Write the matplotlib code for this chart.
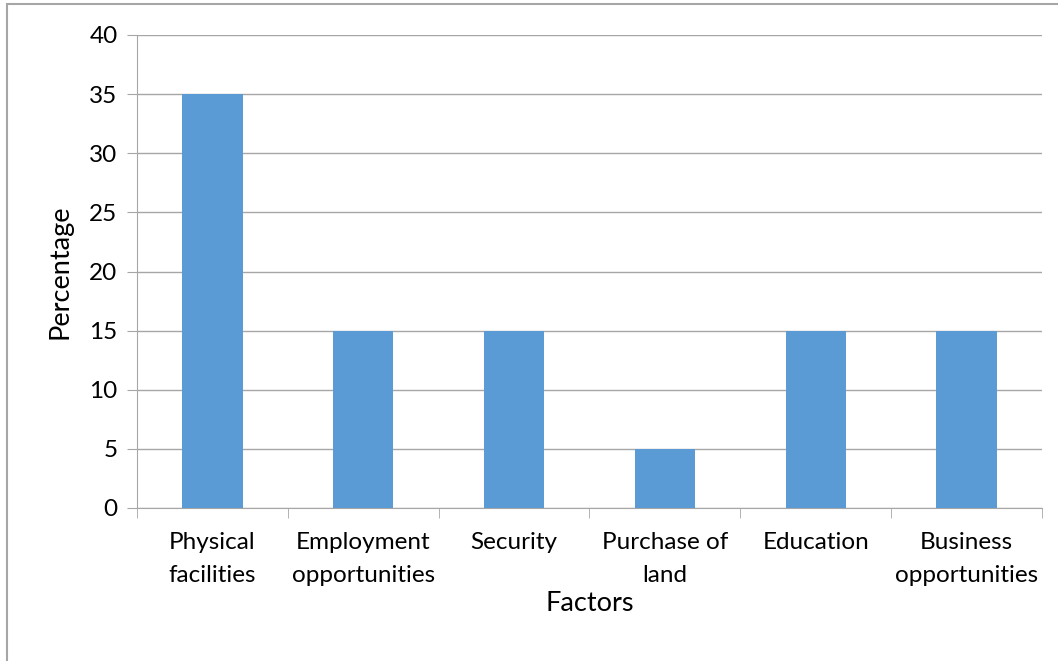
import matplotlib
matplotlib.use("Agg")
import matplotlib.pyplot as plt
from matplotlib.patches import Rectangle

categories = ["Physical\nfacilities", "Employment\nopportunities", "Security",
              "Purchase of\nland", "Education", "Business\nopportunities"]
values = [35, 15, 15, 5, 15, 15]
yticks = [0, 5, 10, 15, 20, 25, 30, 35, 40]

plt.rcParams['font.family'] = ['Lato', 'DejaVu Sans']
W, H = 1058, 661
fig = plt.figure(figsize=(W/100, H/100), dpi=100)
ax = fig.add_axes([137/W, 1-508/H, (1042-137)/W, (508-35)/H])

x = list(range(len(categories)))
ax.bar(x, values, width=0.4, color='#5B9BD5', zorder=3)
ax.set_xlim(-0.5, len(categories)-0.5)
ax.set_ylim(0, 40)
ax.set_yticks(yticks)
ax.set_yticklabels([str(v) for v in yticks], fontsize=17.5)
ax.set_xticks(x)
ax.set_xticklabels(categories, fontsize=17.5, linespacing=1.75, va='top')
ax.tick_params(axis='x', length=0, pad=17)
ax.tick_params(axis='y', length=7, color='#A6A6A6', pad=7)
# category boundary ticks
ax.set_xticks([i - 0.5 for i in range(len(categories)+1)], minor=True)
ax.tick_params(axis='x', which='minor', length=7, color='#A6A6A6', direction='out')
ax.grid(axis='y', color='#A6A6A6', linewidth=1, zorder=0)
for s in ['top', 'right']:
    ax.spines[s].set_visible(False)
for s in ['left', 'bottom']:
    ax.spines[s].set_color('#A6A6A6')
ax.set_ylabel('Percentage', fontsize=19.5, labelpad=12)
ax.set_xlabel('Factors', fontsize=19.5, labelpad=3)

# outer chart border (clipped at right/bottom)
fig.patches.append(Rectangle((7/W, -0.1), 1.2, 1-4/H+0.1, transform=fig.transFigure,
                             fill=False, edgecolor='#A6A6A6', linewidth=1.5))
fig.savefig('out.png', dpi=100)
